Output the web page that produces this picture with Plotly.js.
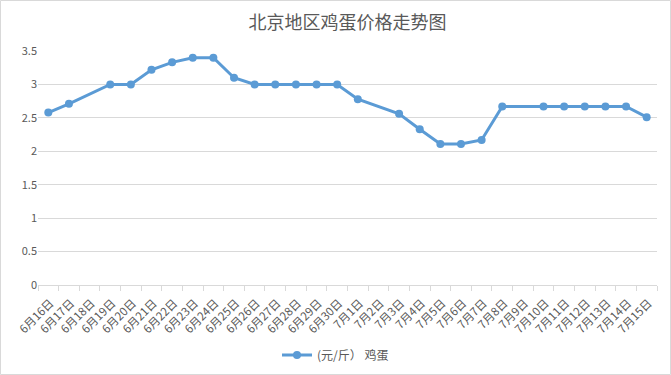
<!DOCTYPE html>
<html>
<head>
<meta charset="utf-8">
<script src="https://cdn.plot.ly/plotly-3.0.1.min.js"></script>
<style>
html,body{margin:0;padding:0;background:#fff;}
#chart{width:671px;height:375px;}
</style>
</head>
<body>
<div id="chart"></div>
<script>
// Categories (dates)
const dates = [
  "6月16日","6月17日","6月18日","6月19日","6月20日","6月21日","6月22日","6月23日","6月24日","6月25日",
  "6月26日","6月27日","6月28日","6月29日","6月30日","7月1日","7月2日","7月3日","7月4日","7月5日",
  "7月6日","7月7日","7月8日","7月9日","7月10日","7月11日","7月12日","7月13日","7月14日","7月15日"
];
// Egg price (元/斤); null = no data on that day
const eggPrice = [
  2.58, 2.71, null, 3.0, 3.0, 3.22, 3.33, 3.4, 3.4, 3.1,
  3.0, 3.0, 3.0, 3.0, 3.0, 2.78, null, 2.56, 2.33, 2.11,
  2.11, 2.17, 2.67, null, 2.67, 2.67, 2.67, 2.67, 2.67, 2.51
];
const seriesName = "(元/斤） 鸡蛋";
const titleText = "北京地区鸡蛋价格走势图";
const yTicks = [0, 0.5, 1, 1.5, 2, 2.5, 3, 3.5];

const W = 671, H = 375;
const m = {l: 38, r: 14, t: 51, b: 90};
const pw = W - m.l - m.r, ph = H - m.t - m.b;

const font = "'Noto Sans CJK SC', 'Noto Sans', sans-serif";

const trace = {
  x: dates,
  y: eggPrice,
  type: 'scatter',
  mode: 'lines+markers',
  name: seriesName,
  connectgaps: true,
  line: {color: '#5b9bd5', width: 3},
  marker: {color: '#5b9bd5', size: 8}
};

const layout = {
  width: W, height: H,
  margin: m,
  paper_bgcolor: '#ffffff',
  plot_bgcolor: '#ffffff',
  font: {family: font, color: '#595959', size: 11},
  title: {text: titleText, x: 0.5, xanchor: 'center', xref: 'paper',
          y: 1 - 23 / H, yanchor: 'middle', yref: 'container',
          font: {family: font, size: 18, color: '#595959'}},
  xaxis: {
    type: 'category',
    range: [-0.5, dates.length - 0.5],
    automargin: false,
    tickangle: -45,
    tickson: 'boundaries',
    ticks: 'outside', ticklen: 5, tickcolor: '#d9d9d9',
    ticklabelstandoff: 6,
    ticklabelshift: 2,
    showline: true, linecolor: '#d9d9d9', linewidth: 1,
    showgrid: false,
    tickfont: {family: font, size: 11.5, color: '#595959'},
    fixedrange: true
  },
  yaxis: {
    automargin: false,
    range: [0, 3.5],
    tickvals: yTicks,
    ticktext: yTicks.map(String),
    showgrid: true, gridcolor: '#d9d9d9', gridwidth: 1,
    zeroline: false, showline: false,
    ticks: '',
    tickfont: {family: font, size: 11, color: '#595959'},
    fixedrange: true
  },
  showlegend: true,
  legend: {
    orientation: 'h', x: 0.5, xanchor: 'center', xref: 'container',
    y: 1 - 355 / H, yanchor: 'middle', yref: 'container',
    font: {family: font, size: 12, color: '#595959'}
  },
  shapes: [{
    type: 'rect', xref: 'paper', yref: 'paper',
    x0: -(m.l - 0.5) / pw, x1: 1 + (m.r - 0.5) / pw,
    y0: -(m.b - 0.5) / ph, y1: 1 + (m.t - 0.5) / ph,
    line: {color: '#d9d9d9', width: 1}, layer: 'below'
  }]
};

Plotly.newPlot('chart', [trace], layout, {displayModeBar: false, staticPlot: true});
</script>
</body>
</html>
